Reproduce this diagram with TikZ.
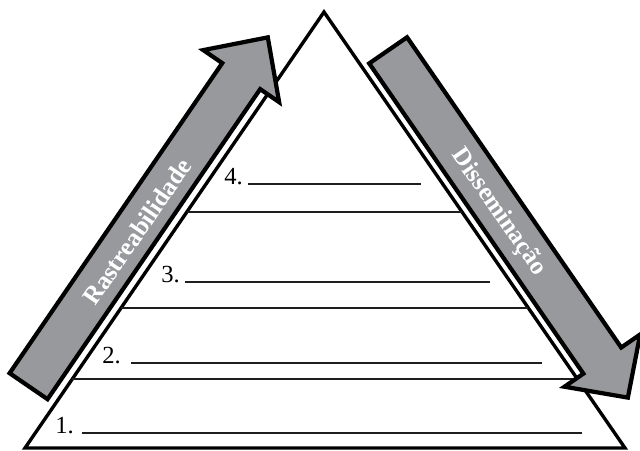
\documentclass[tikz,border=0pt]{standalone}
\usepackage{fontspec}
\setmainfont{Liberation Serif}
\usepackage{xcolor}
\usetikzlibrary{calc}
\definecolor{arrowgray}{RGB}{152,153,157}
\definecolor{lineclr}{RGB}{30,30,30}
\tikzset{
  % piramide
  pyramid/.style   = {draw=black, line width=2.4pt, line join=miter},
  levelline/.style = {draw=lineclr, line width=1pt},
  blankline/.style = {draw=lineclr, line width=1pt},
  % setas
  bigarrow/.style  = {fill=arrowgray, draw=black, line width=3pt, line join=miter},
  arrowlab/.style  = {text=white, font=\fontsize{18}{20}\selectfont\bfseries, inner sep=0pt},
  % numeros dos niveis
  numlab/.style    = {font=\fontsize{17.5}{20}\selectfont, inner sep=0pt, anchor=base west},
}

\begin{document}
\begin{tikzpicture}[x=0.025cm, y=0.025cm]
  \useasboundingbox (0,0) rectangle (640,450);
  % vertices da piramide
  \coordinate (L) at (25,2);
  \coordinate (R) at (625,2);
  \coordinate (A) at (324,438);
  \draw[pyramid] (L) -- (A) -- (R) -- cycle;
  % divisoes entre niveis
  \draw[levelline] ($(L)!0.158!(A)$) -- ($(R)!0.158!(A)$);
  \draw[levelline] ($(L)!0.321!(A)$) -- ($(R)!0.321!(A)$);
  \draw[levelline] ($(L)!0.541!(A)$) -- ($(R)!0.541!(A)$);
  % linhas para preencher
  \node[numlab] (n1) at (55,17) {1.};
  \coordinate (e1) at (582,17);
  \draw[blankline] ($(n1.base east)+(8,0)$) -- (e1);
  \node[numlab] (n2) at (102,87) {2.};
  \coordinate (e2) at (542,87);
  \draw[blankline] ($(n2.base east)+(10,0)$) -- (e2);
  \node[numlab] (n3) at (161,168) {3.};
  \coordinate (e3) at (490,168);
  \draw[blankline] ($(n3.base east)+(5,0)$) -- (e3);
  \node[numlab] (n4) at (224,266) {4.};
  \coordinate (e4) at (421,266);
  \draw[blankline] ($(n4.base east)+(5,0)$) -- (e4);
  % angulos dos lados
  \pgfmathsetmacro{\angL}{atan2(436,299)}
  \pgfmathsetmacro{\angR}{-atan2(436,301)}
  % seta esquerda (subindo)
  \begin{scope}[shift={(L)}, rotate=\angL]
    \draw[bigarrow] (53,9) -- ++(376,0) -- ++(0,-23) -- ++(47,46)
      -- ++(-47,46) -- ++(0,-23) -- ++(-376,0) -- cycle;
    \node[arrowlab, rotate=\angL] (rast) at (242,30) {Rastreabilidade};
  \end{scope}
  % seta direita (descendo)
  \begin{scope}[shift={(A)}, rotate=\angR]
    \draw[bigarrow] (68,8) -- ++(377,0) -- ++(0,-23) -- ++(45,46)
      -- ++(-45,46) -- ++(0,-23) -- ++(-377,0) -- cycle;
    \node[arrowlab, rotate=\angR] (diss) at (264,30) {Disseminação};
  \end{scope}
\end{tikzpicture}
\end{document}
